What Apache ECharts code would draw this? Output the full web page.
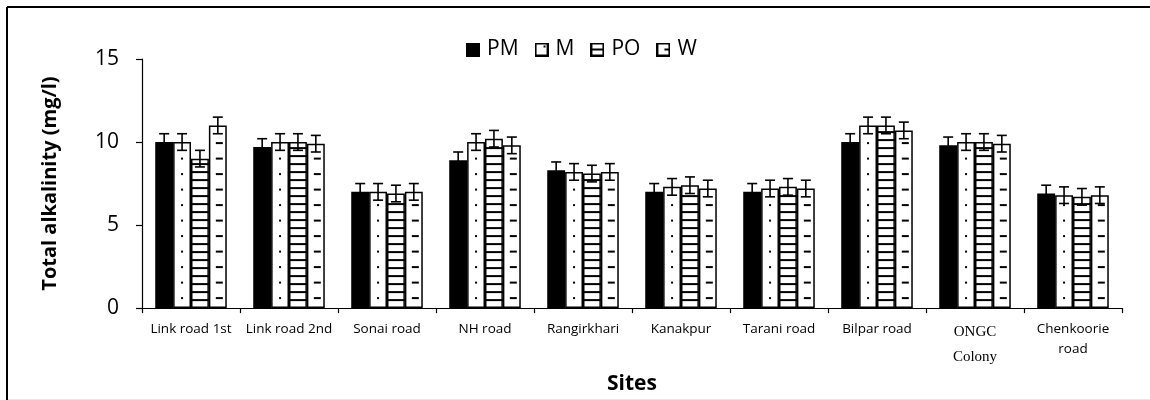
<!DOCTYPE html>
<html>
<head>
<meta charset="utf-8">
<script src="https://cdn.jsdelivr.net/npm/echarts@6/dist/echarts.min.js"></script>
<style>
  html, body { margin: 0; padding: 0; background: #fff; }
  #chart { width: 1150px; height: 400px; }
</style>
</head>
<body>
<div id="chart"></div>
<script>
// Sampling sites along the x axis
const categories = ['Link road 1st', 'Link road 2nd', 'Sonai road', 'NH road', 'Rangirkhari',
  'Kanakpur', 'Tarani road', 'Bilpar road', 'ONGC Colony', 'Chenkoorie road'];

// Seasons
const seriesNames = ['PM', 'M', 'PO', 'W'];

// Total alkalinity (mg/l) per season
const pmValues = [10.0, 9.7, 7.0, 8.9, 8.3, 7.0, 7.0, 10.0, 9.8, 6.9];
const mValues  = [10.0, 10.0, 7.0, 10.0, 8.2, 7.3, 7.2, 11.0, 10.0, 6.8];
const poValues = [9.0, 10.0, 6.9, 10.2, 8.1, 7.4, 7.3, 11.0, 10.0, 6.7];
const wValues  = [11.0, 9.9, 7.0, 9.8, 8.2, 7.2, 7.2, 10.7, 9.9, 6.8];

// Error (+/-) per season
const pmErrors = [0.5, 0.5, 0.5, 0.5, 0.5, 0.5, 0.5, 0.5, 0.5, 0.5];
const mErrors  = [0.5, 0.5, 0.5, 0.5, 0.5, 0.5, 0.5, 0.5, 0.5, 0.5];
const poErrors = [0.5, 0.5, 0.5, 0.5, 0.5, 0.5, 0.5, 0.5, 0.5, 0.5];
const wErrors  = [0.5, 0.5, 0.5, 0.5, 0.5, 0.5, 0.5, 0.5, 0.5, 0.5];

// Y axis ticks
const yTicks = [0, 5, 10, 15];

const allValues = [pmValues, mValues, poValues, wValues];
const allErrors = [pmErrors, mErrors, poErrors, wErrors];
const fills = ['solid', 'dots', 'hlines', 'dashes'];
const GAP = 0.27;
const FONT = '"Open Sans", sans-serif';

// Small square legend icons carrying each fill style
function legendIcon(kind) {
  const c = document.createElement('canvas');
  c.width = 14; c.height = 14;
  const g = c.getContext('2d');
  g.fillStyle = kind === 'solid' ? '#000' : '#fff';
  g.fillRect(1, 1, 12, 12);
  g.strokeStyle = '#000'; g.lineWidth = 2;
  g.strokeRect(1, 1, 12, 12);
  g.fillStyle = '#000';
  if (kind === 'dots') g.fillRect(9, 3, 2, 2);
  if (kind === 'hlines') g.fillRect(1, 6, 12, 2);
  if (kind === 'dashes') g.fillRect(8, 6, 5, 2);
  return 'image://' + c.toDataURL();
}

// Fill marks inside each bar plus its error bar
function renderItem(params, api) {
  const cat = api.value(0), k = api.value(1), v = api.value(2), e = api.value(3);
  const base = api.coord([cat, 0]);
  const top = api.coord([cat, v]);
  const bandW = api.size([1, 0])[0];
  const barW = bandW * (1 - GAP) / 4;
  const x0 = base[0] - 2 * barW + k * barW;
  const cx = x0 + barW / 2;
  const children = [];
  const kind = fills[k];
  if (kind === 'dots') {
    for (let y = base[1] - 10; y > top[1] + 4; y -= 15.5) {
      children.push({ type: 'rect', shape: { x: cx - 1, y: y - 1, width: 2, height: 2 }, style: { fill: '#000' } });
    }
  } else if (kind === 'hlines') {
    for (let y = base[1] - 8; y > top[1] + 3; y -= 8) {
      children.push({ type: 'line', shape: { x1: x0, y1: y, x2: x0 + barW, y2: y }, style: { stroke: '#000', lineWidth: 2 } });
    }
  } else if (kind === 'dashes') {
    for (let y = base[1] - 10; y > top[1] + 4; y -= 15.5) {
      children.push({ type: 'line', shape: { x1: cx - 2, y1: y, x2: cx + 5, y2: y }, style: { stroke: '#000', lineWidth: 2 } });
    }
  }
  const hi = api.coord([cat, v + e]);
  const lo = api.coord([cat, v - e]);
  const errStyle = { stroke: '#000', lineWidth: 1.6 };
  children.push({ type: 'line', shape: { x1: cx, y1: hi[1], x2: cx, y2: lo[1] }, style: errStyle });
  children.push({ type: 'line', shape: { x1: cx - 5, y1: hi[1], x2: cx + 5, y2: hi[1] }, style: errStyle });
  children.push({ type: 'line', shape: { x1: cx - 5, y1: lo[1], x2: cx + 5, y2: lo[1] }, style: errStyle });
  return { type: 'group', children: children };
}

const overlayData = [];
allValues.forEach((vals, k) => {
  vals.forEach((v, i) => overlayData.push([i, k, v, allErrors[k][i]]));
});

const barSeries = seriesNames.map((name, k) => ({
  name: name,
  type: 'bar',
  data: allValues[k],
  barGap: '0%',
  barCategoryGap: (GAP * 100) + '%',
  itemStyle: { color: k === 0 ? '#000' : '#fff', borderColor: '#000', borderWidth: 1.5 },
  emphasis: { disabled: true },
  silent: true,
  animation: false
}));

const chart = echarts.init(document.getElementById('chart'), null, { renderer: 'canvas' });
chart.setOption({
  animation: false,
  backgroundColor: '#fff',
  textStyle: { fontFamily: FONT, color: '#000' },
  legend: {
    left: 461,
    top: 34,
    itemWidth: 14,
    itemHeight: 14,
    itemGap: 16,
    textStyle: { fontSize: 21, color: '#000', fontFamily: FONT, padding: [0, 0, 0, 2] },
    data: seriesNames.map((n, k) => ({ name: n, icon: legendIcon(fills[k]) }))
  },
  grid: { left: 142, right: 28, top: 59, bottom: 88, containLabel: false },
  xAxis: {
    type: 'category',
    data: categories,
    name: 'Sites',
    nameLocation: 'middle',
    nameGap: 61,
    nameTextStyle: { fontSize: 21, fontWeight: 'bold', color: '#000', fontFamily: FONT },
    axisLine: { lineStyle: { color: '#000', width: 1.2 } },
    axisTick: { show: true, length: 5, lineStyle: { color: '#000', width: 1.2 } },
    axisLabel: {
      interval: 0,
      margin: 11,
      fontSize: 13.5,
      color: '#000',
      lineHeight: 20,
      fontFamily: FONT,
      formatter: function (v) {
        if (v === 'ONGC Colony') return '{serif|ONGC\nColony}';
        if (v === 'Chenkoorie road') return 'Chenkoorie\nroad';
        return v;
      },
      rich: {
        serif: { fontFamily: '"Liberation Serif", serif', fontSize: 15, lineHeight: 25, color: '#000' }
      }
    },
    splitLine: { show: false }
  },
  yAxis: {
    type: 'value',
    min: yTicks[0],
    max: yTicks[yTicks.length - 1],
    interval: yTicks[1] - yTicks[0],
    name: 'Total alkalinity (mg/l)',
    nameLocation: 'middle',
    nameGap: 82,
    nameTextStyle: { fontSize: 20, fontWeight: 'bold', color: '#000', fontFamily: FONT },
    axisLine: { show: true, lineStyle: { color: '#000', width: 1.2 } },
    axisTick: { show: true, length: 6, lineStyle: { color: '#000', width: 1.2 } },
    axisLabel: { fontSize: 21, color: '#000', margin: 23, fontFamily: FONT },
    splitLine: { show: false }
  },
  graphic: [
    { type: 'line', shape: { x1: 7, y1: 7, x2: 1150, y2: 7 }, style: { stroke: '#000', lineWidth: 2 }, silent: true },
    { type: 'line', shape: { x1: 7, y1: 7, x2: 7, y2: 400 }, style: { stroke: '#000', lineWidth: 2 }, silent: true },
    { type: 'line', shape: { x1: 8, y1: 399.5, x2: 1150, y2: 399.5 }, style: { stroke: '#e6e6e6', lineWidth: 1 }, silent: true }
  ],
  series: barSeries.concat([{
    type: 'custom',
    renderItem: renderItem,
    data: overlayData,
    encode: { x: 0, y: 2 },
    z: 5,
    silent: true,
    animation: false
  }])
});
</script>
</body>
</html>
